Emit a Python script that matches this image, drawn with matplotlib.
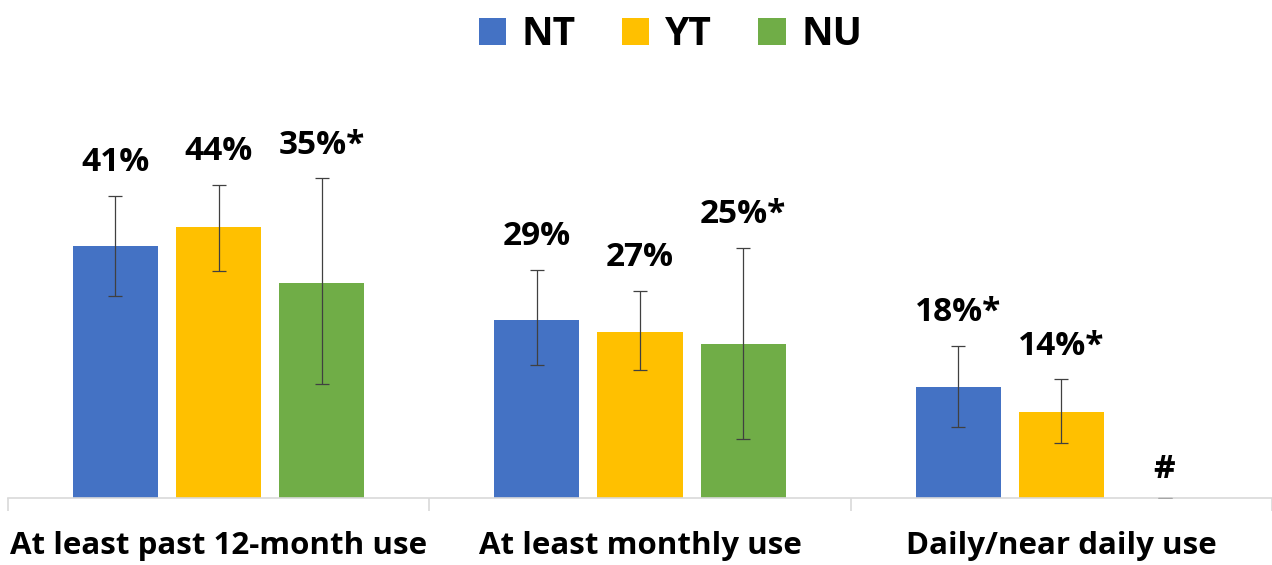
import matplotlib
matplotlib.use("Agg")
import matplotlib.pyplot as plt
import numpy as np

plt.rcParams['font.family'] = ['Open Sans', 'DejaVu Sans']

categories = ['At least past 12-month use', 'At least monthly use', 'Daily/near daily use']
series = ['NT', 'YT', 'NU']
colors = ['#4472C4', '#FFC000', '#70AD47']

nt = [41, 29, 18]
yt = [44, 27, 14]
nu = [35, 25, 0]

nt_lo = [32.8, 21.6, 11.5]
nt_hi = [49.1, 37.1, 24.7]
yt_lo = [36.9, 20.8, 8.9]
yt_hi = [50.9, 33.7, 19.3]
nu_lo = [18.5, 9.6, 0]
nu_hi = [52.0, 40.7, 0]

nt_lab = ['41%', '29%', '18%*']
yt_lab = ['44%', '27%', '14%*']
nu_lab = ['35%*', '25%*', '#']

fig = plt.figure(figsize=(12.72, 5.65), dpi=100)
ax = fig.add_axes([8 / 1272, 1 - 498 / 565, 1 - 8 / 1272, 369 / 565])

x = np.arange(len(categories))
w = 0.202
step = 0.245

all_vals = [nt, yt, nu]
all_lo = [nt_lo, yt_lo, nu_lo]
all_hi = [nt_hi, yt_hi, nu_hi]
all_lab = [nt_lab, yt_lab, nu_lab]

for i in range(3):
    xs = x + (i - 1) * step
    ax.bar(xs, all_vals[i], width=w, color=colors[i], label=series[i], zorder=2)
    for j in range(3):
        lo = all_lo[i][j]
        hi = all_hi[i][j]
        v = all_vals[i][j]
        ax.errorbar(xs[j], v, yerr=[[v - lo], [hi - v]], fmt='none',
                    ecolor='#404040' if hi > 0 else '#a6a6a6', elinewidth=0.9,
                    capsize=5, capthick=0.9, zorder=3)
        off = 12 if hi > 0 else 9
        ax.annotate(all_lab[i][j], (xs[j], hi), xytext=(0, off), textcoords='offset points',
                    ha='center', va='bottom', fontsize=24, fontweight='bold')

ax.set_xlim(-0.5, 2.5)
ax.set_ylim(0, 60)
ax.set_yticks([])
ax.set_xticks(x)
ax.set_xticklabels(categories, fontsize=22.5, fontweight='bold')
ax.tick_params(axis='x', which='major', length=0, pad=24)
ax.set_xticks([-0.5, 0.5, 1.5, 2.5], minor=True)
ax.tick_params(axis='x', which='minor', length=9, color='#d9d9d9', width=1.2)
for s in ['top', 'right', 'left']:
    ax.spines[s].set_visible(False)
ax.spines['bottom'].set_color('#d9d9d9')
ax.spines['bottom'].set_linewidth(1.2)

leg = fig.legend(loc='upper center', bbox_to_anchor=(0.527, 1.035), ncol=3, frameon=False,
                 prop={'size': 28, 'weight': 'bold'}, handlelength=0.7, handleheight=0.7,
                 handletextpad=0.4, columnspacing=1.2)

fig.savefig('out.png', dpi=100)
